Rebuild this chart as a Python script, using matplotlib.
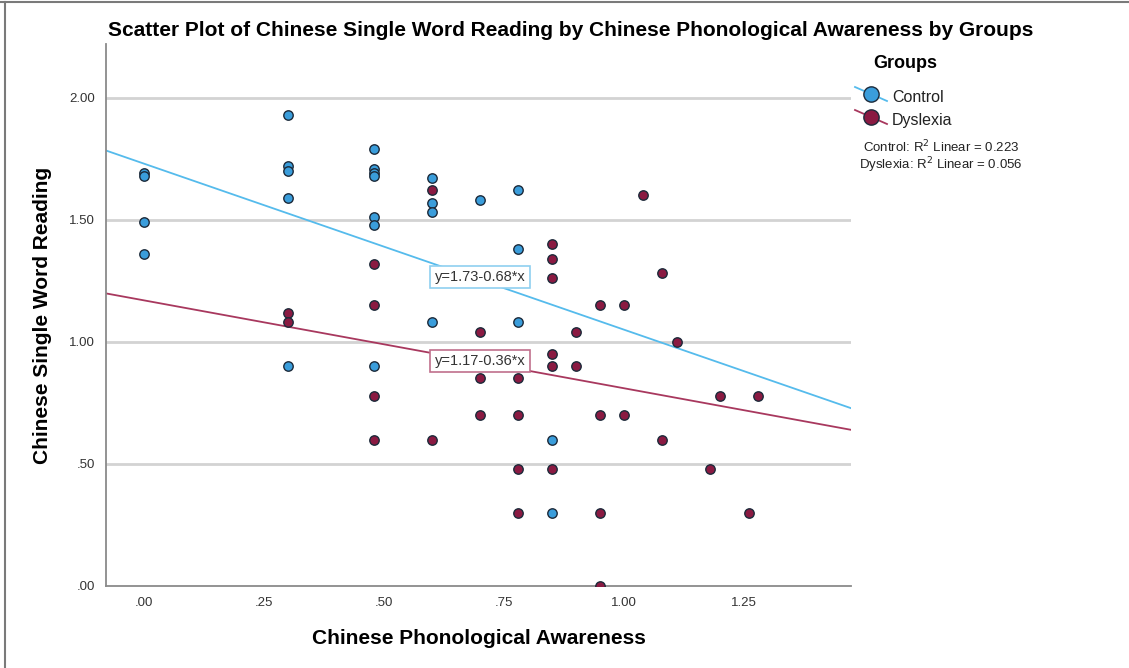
import numpy as np
import matplotlib
matplotlib.use('Agg')
import matplotlib.pyplot as plt
from matplotlib.lines import Line2D

plt.rcParams['font.family'] = ['Liberation Sans', 'DejaVu Sans']

# ---- data: (phonological awareness, single word reading) per group ----
control_x = [0.00, 0.00, 0.00, 0.00,
             0.30, 0.30, 0.30, 0.30, 0.30,
             0.48, 0.48, 0.48, 0.48, 0.48, 0.48, 0.48,
             0.60, 0.60, 0.60, 0.60,
             0.70,
             0.78, 0.78, 0.78,
             0.85, 0.85]
control_y = [1.69, 1.68, 1.49, 1.36,
             1.93, 1.72, 1.70, 1.59, 0.90,
             1.79, 1.71, 1.69, 1.68, 1.51, 1.48, 0.90,
             1.67, 1.57, 1.53, 1.08,
             1.58,
             1.62, 1.38, 1.08,
             0.60, 0.30]

dyslexia_x = [0.30, 0.30,
              0.48, 0.48, 0.48, 0.48,
              0.60, 0.60,
              0.70, 0.70, 0.70,
              0.78, 0.78, 0.78, 0.78,
              0.85, 0.85, 0.85, 0.85, 0.85, 0.85,
              0.90, 0.90,
              0.95, 0.95, 0.95, 0.95,
              1.00, 1.00,
              1.04,
              1.08, 1.08,
              1.11,
              1.18,
              1.20,
              1.26,
              1.28]
dyslexia_y = [1.12, 1.08,
              1.32, 1.15, 0.78, 0.60,
              1.62, 0.60,
              1.04, 0.85, 0.70,
              0.85, 0.70, 0.48, 0.30,
              1.40, 1.34, 1.26, 0.95, 0.90, 0.48,
              1.04, 0.90,
              1.15, 0.70, 0.30, 0.00,
              1.15, 0.70,
              1.60,
              1.28, 0.60,
              1.00,
              0.48,
              0.78,
              0.30,
              0.78]

# linear fits as reported
fit_control = (1.73, -0.68)
fit_dyslexia = (1.17, -0.36)
r2_control = 0.223
r2_dyslexia = 0.056

x_ticks = [0.00, 0.25, 0.50, 0.75, 1.00, 1.25]
x_labels = ['.00', '.25', '.50', '.75', '1.00', '1.25']
y_ticks = [0.00, 0.50, 1.00, 1.50, 2.00]
y_labels = ['.00', '.50', '1.00', '1.50', '2.00']

C_FILL = '#3a9ddb'
C_LINE = '#55bbec'
D_FILL = '#8a1a42'
D_LINE = '#a8385e'
EDGE = '#1c2a3a'

fig = plt.figure(figsize=(11.29, 6.68), dpi=100)
ax = fig.add_axes([106 / 1129, 82 / 668, 745 / 1129, 542 / 668])

xmin, xmax = -0.079, 1.473
ax.set_xlim(xmin, xmax)
ax.set_ylim(0, 2.22)

# horizontal grid
for yt in y_ticks[1:]:
    ax.axhline(yt, color='#d3d3d3', lw=2.0, zorder=0)

# fit lines
xs = np.array([xmin, xmax])
ax.plot(xs, fit_control[0] + fit_control[1] * xs, color=C_LINE, lw=1.3, zorder=2)
ax.plot(xs, fit_dyslexia[0] + fit_dyslexia[1] * xs, color=D_LINE, lw=1.3, zorder=2)

ax.scatter(control_x, control_y, s=46, c=C_FILL, edgecolors=EDGE, linewidths=1.0, zorder=3)
ax.scatter(dyslexia_x, dyslexia_y, s=46, c=D_FILL, edgecolors=EDGE, linewidths=1.0, zorder=3)

# equation labels
ax.text(0.70, 1.266, 'y=%.2f-%.2f*x' % (fit_control[0], -fit_control[1]),
        ha='center', va='center', fontsize=10.5, color='#333333', zorder=4,
        bbox=dict(boxstyle='square,pad=0.3', fc='white', ec='#8fd0f0', lw=1.2))
ax.text(0.70, 0.922, 'y=%.2f-%.2f*x' % (fit_dyslexia[0], -fit_dyslexia[1]),
        ha='center', va='center', fontsize=10.5, color='#333333', zorder=4,
        bbox=dict(boxstyle='square,pad=0.3', fc='white', ec='#c0708c', lw=1.2))

ax.set_xticks(x_ticks)
ax.set_xticklabels(x_labels)
ax.set_yticks(y_ticks)
ax.set_yticklabels(y_labels)
ax.tick_params(length=0, labelsize=9.5, colors='#333333', pad=8)
for side in ('top', 'right'):
    ax.spines[side].set_visible(False)
for side in ('left', 'bottom'):
    ax.spines[side].set_color('#8a8a8a')
    ax.spines[side].set_linewidth(1.3)

ax.set_xlabel('Chinese Phonological Awareness', fontsize=15, fontweight='bold', labelpad=14)
ax.set_ylabel('Chinese Single Word Reading', fontsize=15, fontweight='bold', labelpad=12)

fig.text(571 / 1129, 1 - 30 / 668,
         'Scatter Plot of Chinese Single Word Reading by Chinese Phonological Awareness by Groups',
         ha='center', va='center', fontsize=15, fontweight='bold')

# legend, drawn in pixel coordinates
def fx(px):
    return px / 1129

def fy(py):
    return 1 - py / 668

fig.text(fx(905), fy(64), 'Groups', ha='center', va='center', fontsize=13, fontweight='bold')
for cy, fill, line, name in [(94, C_FILL, C_LINE, 'Control'), (117, D_FILL, D_LINE, 'Dyslexia')]:
    fig.add_artist(Line2D([fx(855), fx(887)], [fy(cy - 7), fy(cy + 7)], color=line, lw=1.3))
    fig.add_artist(Line2D([fx(871)], [fy(cy)], marker='o', markersize=11,
                          markerfacecolor=fill, markeredgecolor=EDGE, markeredgewidth=1.0))
    fig.text(fx(892), fy(cy + 3), name, ha='left', va='center', fontsize=11.5, color='#222222')

fig.text(fx(941), fy(147), 'Control: R$^2$ Linear = %.3f' % r2_control,
         ha='center', va='center', fontsize=9.5, color='#222222')
fig.text(fx(941), fy(165), 'Dyslexia: R$^2$ Linear = %.3f' % r2_dyslexia,
         ha='center', va='center', fontsize=9.5, color='#222222')

# outer frame (top and left edges)
fig.add_artist(Line2D([0, 1], [fy(2), fy(2)], color='#7a7a7a', lw=1.5))
fig.add_artist(Line2D([fx(5), fx(5)], [0, fy(2)], color='#7a7a7a', lw=1.5))

fig.savefig('out.png', dpi=100)
